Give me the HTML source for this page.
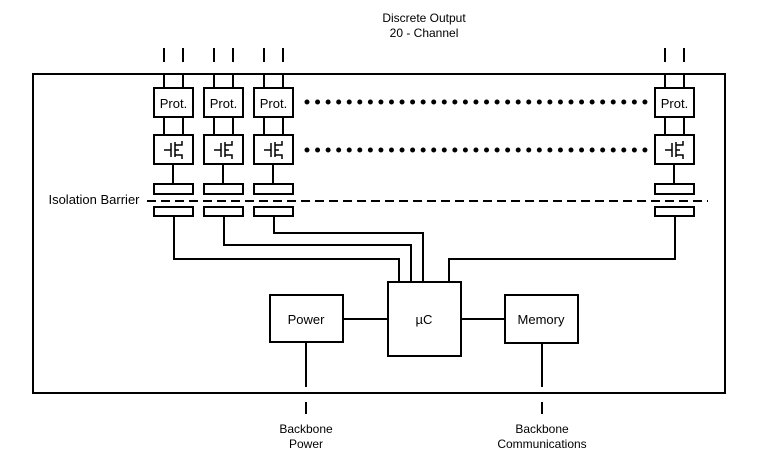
<!DOCTYPE html>
<html><head><style>body{margin:0;background:#fff}svg{display:block}</style></head><body>
<svg width="776" height="466" viewBox="0 0 776 466" xmlns="http://www.w3.org/2000/svg" font-family="Liberation Sans, Arial, sans-serif">
<g fill="none" stroke="#000" stroke-width="2">
<rect x="33" y="74" width="692" height="319"/>
<path d="M399 282V259H174V216 M411 282V245H224V216 M423 282V233H274V216 M449 282V259H675V216"/>
<rect x="388" y="282" width="73" height="74" fill="#fff"/>
<rect x="270" y="295" width="73" height="47" fill="#fff"/>
<rect x="505" y="295" width="73" height="48" fill="#fff"/>
<path d="M343 319H388 M461 319H505 M306 342V387 M306 402V414 M542 343V387 M542 402V414"/>
<path d="M147 201H708" stroke-dasharray="9,5"/>
</g>
<g id="ch" fill="none" stroke="#000" stroke-width="2">
<path d="M164 48V62 M183 48V62 M164 74V88 M183 74V88 M164 117V136 M183 117V136 M173 164V184"/>
<rect x="154" y="88" width="39" height="29" fill="#fff"/>
<rect x="154" y="135" width="39" height="29"/>
<rect x="154" y="184" width="39" height="10"/>
<rect x="154" y="207" width="39" height="9"/>
<path stroke-width="1.5" d="M164 150H171 M171 143V157 M175 142V157 M175 145H182V141 M175 155H182V159 M175 150H179"/>
<text x="173.5" y="108" font-size="13" fill="#000" stroke="none" text-anchor="middle">Prot.</text>
</g>
<use href="#ch" x="50"/>
<use href="#ch" x="100"/>
<use href="#ch" x="501"/>
<g fill="#000">
<line x1="307" y1="102" x2="645" y2="102" stroke="#000" stroke-width="5" stroke-linecap="round" stroke-dasharray="0,10.56"/>
<line x1="307" y1="150" x2="645" y2="150" stroke="#000" stroke-width="5" stroke-linecap="round" stroke-dasharray="0,10.56"/>
</g>
<g font-size="12" fill="#000" text-anchor="middle">
<text x="424" y="22">Discrete Output</text>
<text x="424" y="37">20 - Channel</text>
<text x="306" y="433">Backbone</text>
<text x="306" y="448">Power</text>
<text x="542" y="433">Backbone</text>
<text x="542" y="448">Communications</text>
<text x="94" y="204" font-size="13">Isolation Barrier</text>
<text x="306" y="324" font-size="13">Power</text>
<text x="424" y="324" font-size="13">µC</text>
<text x="541" y="324" font-size="13">Memory</text>
</g>
</svg>
</body></html>
